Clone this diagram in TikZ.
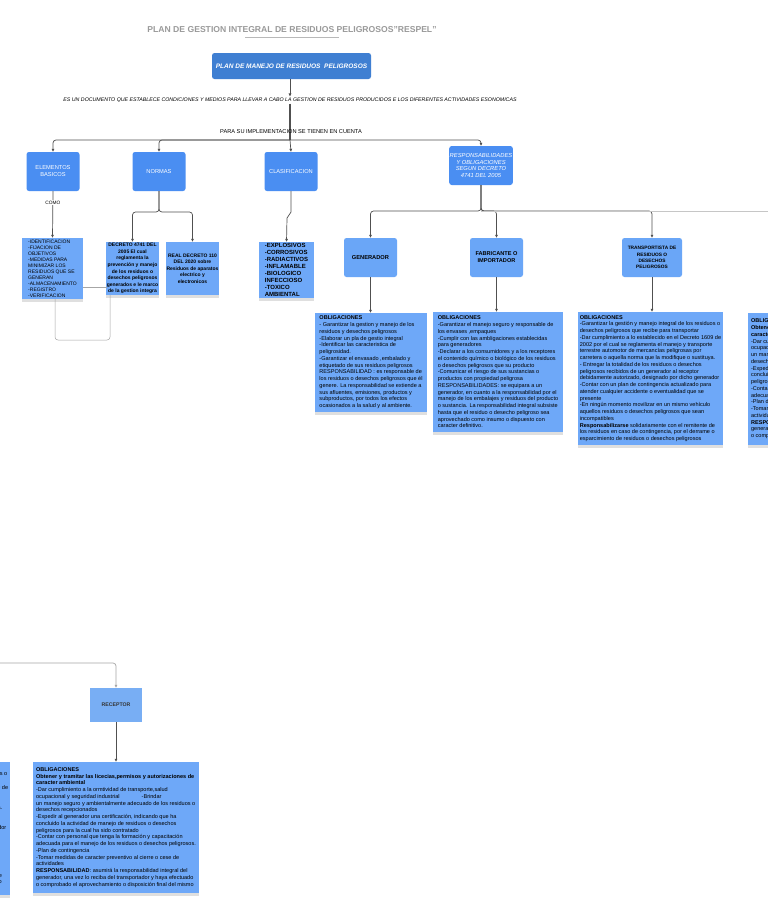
\documentclass[tikz,border=0pt]{standalone}
\usepackage{fontspec}
\setmainfont{Liberation Sans}
\usetikzlibrary{shadows,arrows.meta}
\definecolor{mainblue}{HTML}{3F7FD2}
\definecolor{catblue}{HTML}{4A8EF2}
\definecolor{actblue}{HTML}{6AA6F7}
\definecolor{contblue}{HTML}{6EA8F8}
\definecolor{recblue}{HTML}{78AEF4}
\definecolor{lineg}{HTML}{505050}
\definecolor{titleg}{HTML}{9A9A9A}
\tikzset{
  catbox/.style={fill=catblue, rounded corners=2.5pt, text=white, align=center, inner sep=0.5pt},
  actbox/.style={fill=actblue, rounded corners=2.5pt, align=center, inner sep=0.5pt, text=black},
  contbox/.style={fill=contblue, align=left, inner sep=1pt, text=black,
     drop shadow={opacity=0.25, shadow xshift=0pt, shadow yshift=-2.5pt}},
  conn/.style={draw=lineg, line width=0.7pt},
  arr/.style={conn, -{Triangle[length=3pt,width=2.6pt]}},
  rc/.style={rounded corners=3pt},
  obtext/.style={font=\fontsize{5.55}{6.75}\selectfont}
}
\newcommand{\transtext}{\textbf{OBLIGACIONES}\\
-Garantizar la gestión y manejo integral de los residuos o\\
desechos peligrosos que recibe para transportar\\
-Dar cumplimiento a lo establecido en el Decreto 1609 de\\
2002 por el cual se reglamenta el manejo y transporte\\
terrestre automotor de mercancías peligrosas por\\
carretera o aquella norma que la modifique o sustituya.\\
- Entregar la totalidad de los residuos o desechos\\
peligrosos recibidos de un generador al receptor\\
debidamente autorizado, designado por dicho generador\\
-Contar con un plan de contingencia actualizado para\\
atender cualquier accidente o eventualidad que se\\
presente\\
-En ningún momento movilizar en un mismo vehículo\\
aquellos residuos o desechos peligrosos que sean\\
incompatibles\\
\textbf{Responsabilizarse} solidariamente con el remitente de\\
los residuos en caso de contingencia, por el derrame o\\
esparcimiento de residuos o desechos peligrosos}
\newcommand{\rectext}{\textbf{OBLIGACIONES}\\
\textbf{Obtener y tramitar las licecias,permisos y autorizaciones de}\\
\textbf{caracter ambiental}\\
-Dar cumplimiento a la ormtividad de transporte,salud\\
ocupacional y seguridad industrial\hspace{22pt}-Brindar\\
un manejo seguro y ambientalmente adecuado de los residuos o\\
desechos recepcionados\\
-Expedir al generador una certificación, indicando que ha\\
concluido la actividad de manejo de residuos o desechos\\
peligrosos para la cual ha sido contratado\\
-Contar con personal que tenga la formación y capacitación\\
adecuada para el manejo de los residuos o desechos peligrosos.\\
-Plan de contingencia\\
-Tomar medidas de caracter preventivo al cierre o cese de\\
actividades\\
\textbf{RESPONSABILIDAD}: asumirá la responsabilidad integral del\\
generador, una vez lo reciba del transportador y haya efectuado\\
o comprobado el aprovechamiento o disposición final del mismo}
\begin{document}
\begin{tikzpicture}[x=1pt,y=-1pt]
\useasboundingbox (0,0) rectangle (768,900);
\fill[white] (0,0) rectangle (768,900);
\clip (0,0) rectangle (768,900);

% title
\node[text=titleg, font=\fontsize{8.6}{10}\selectfont\bfseries] (title) at (292,30) {PLAN DE GESTION INTEGRAL DE RESIDUOS PELIGROSOS"RESPEL"};
\draw[titleg!70, line width=0.6pt] (245,37) -- (339,37);

% main
\node[fill=mainblue, rounded corners=2.5pt, minimum width=159pt, minimum height=26pt, text=white,
      font=\fontsize{6.5}{7.5}\selectfont\bfseries\itshape] (main) at (291.5,66) {PLAN DE MANEJO DE RESIDUOS\ \ PELIGROSOS};
\node[font=\fontsize{5.25}{6}\selectfont\itshape, inner sep=1pt] (desc) at (290,100) {ES UN DOCUMENTO QUE ESTABLECE CONDICIONES Y MEDIOS PARA LLEVAR A CABO LA GESTION DE RESIDUOS PRODUCIDOS E LOS DIFERENTES ACTIVIDADES ESONOMICAS};
\coordinate (br) at (290,140);
\draw[arr] (main.south -| desc.north) -- (desc.north);
\draw[conn, line width=1.1pt] (desc.south) -- (br);
\node[font=\fontsize{5.65}{6.5}\selectfont, inner sep=0.5pt] (impl) at (291,132) {PARA SU IMPLEMENTACION SE TIENEN EN CUENTA};

% categories
\node[catbox, minimum width=53pt, minimum height=39pt, font=\fontsize{5.7}{7}\selectfont] (elem) at (53,171.5) {ELEMENTOS\\BASICOS};
\node[catbox, minimum width=53pt, minimum height=39pt, font=\fontsize{5.7}{7}\selectfont] (norm) at (159,171.5) {NORMAS};
\node[catbox, minimum width=53pt, minimum height=39pt, font=\fontsize{5.7}{7}\selectfont] (clas) at (291,171.5) {CLASIFICACION};
\node[catbox, minimum width=62pt, minimum height=39pt, font=\fontsize{5.8}{6.8}\selectfont\itshape] (resp) at (481,165.5) {RESPONSABILIDADES\\Y OBLIGACIONES\\SEGUN DECRETO\\4741 DEL 2005};

\draw[arr, rc] (br) -| (elem.north);
\draw[arr, rc] (br) -| (norm.north);
\draw[arr] (br) -- (clas.north);
\draw[arr, rc] (br) -| (resp.north);

% elementos list
\node[contbox, minimum width=61pt, minimum height=61pt, font=\fontsize{5}{6}\selectfont] (elist) at (52.5,268.5) {-IDENTIFICACION\\-FIJACION DE\\OBJETIVOS\\-MEDIDAS PARA\\MINIMIZAR LOS\\RESIDUOS QUE SE\\GENERAN\\-ALMACENAMIENTO\\-REGISTRO\\-VERIFICACION};
\draw[arr] (elem.south) -- node[pos=0.25, fill=white, inner sep=0.8pt, font=\fontsize{4.8}{5}\selectfont] (como) {COMO} (elist.north);

% normas
\node[contbox, align=center, minimum width=51pt, minimum height=53pt, font=\fontsize{5}{6.6}\selectfont\bfseries] (dec) at (132.5,268.5) {DECRETO 4741 DEL\\2005 El cual\\reglamenta la\\prevención y manejo\\de los residuos o\\desechos peligrosos\\generados e le marco\\de la gestion integra};
\node[contbox, align=center, minimum width=53pt, minimum height=53pt, font=\fontsize{5}{6.6}\selectfont\bfseries] (real) at (192.5,268.5) {REAL DECRETO 110\\DEL 2020 sobre\\Residuos de aparatos\\electrico y\\electronicos};
\coordinate (ns) at (159,212);
\draw[arr, rc] (norm.south) -- (ns) -| (dec.north);
\draw[arr, rc] (norm.south) -- (ns) -| (real.north);

% odd connectors between elementos list and decreto
\coordinate (h1) at (83,287);
\coordinate (h2) at (107,287);
\coordinate (l1) at (55,299);
\coordinate (l2) at (55,340);
\coordinate (l3) at (110,340);
\coordinate (l4) at (110,295);
\draw[conn, draw=gray!70, line width=0.5pt] (h1) -- (h2);
\draw[conn, draw=gray!70, line width=0.5pt, rc] (l1) -- (l2) -- (l3) -- (l4);

% clasificacion
\node[contbox, minimum width=55pt, minimum height=56pt, font=\fontsize{6}{6.9}\selectfont\bfseries] (clist) at (286.5,270) {-EXPLOSIVOS\\-CORROSIVOS\\-RADIACTIVOS\\-INFLAMABLE\\-BIOLOGICO\\INFECCIOSO\\-TOXICO\\AMBIENTAL};
\coordinate (c1) at (291,212);
\coordinate (c2) at (287,218);
\draw[arr] (clas.south) -- (c1) -- (c2) -- (clist.north);

% actors
\node[actbox, minimum width=53pt, minimum height=39pt, font=\fontsize{5.7}{7}\selectfont\bfseries] (gen) at (370.5,257.5) {GENERADOR};
\node[actbox, minimum width=53pt, minimum height=39pt, font=\fontsize{5.6}{7}\selectfont\bfseries] (fab) at (496.5,257.5) {FABRICANTE O\\IMPORTADOR};
\node[actbox, minimum width=60pt, minimum height=39pt, font=\fontsize{4.8}{6.3}\selectfont\bfseries] (trans) at (652,257.5) {TRANSPORTISTA DE\\RESIDUOS O\\DESECHOS\\PELIGROSOS};
\coordinate (rs) at (481,211);
\coordinate (rsend) at (768,211);
\draw[arr, rc] (resp.south) -- (rs) -| (gen.north);
\draw[arr, rc] (resp.south) -- (rs) -| (fab.north);
\draw[arr, rc] (resp.south) -- (rs) -| (trans.north);
\draw[conn, draw=gray!45, rc] (rs) -- (rsend);

% obligations
\node[contbox, obtext, minimum width=112pt, minimum height=99pt] (genob) at (371,362.5) {\textbf{OBLIGACIONES}\\
- Garantizar la gestion y manejo de los\\
residuos y desechos peligrosos\\
-Elaborar un pla de gestio integral\\
-Identificar las caracteristica de\\
peligrosidad.\\
-Garantizar el envasado ,embalado y\\
etiquetado de sus residuos peligrosos\\
RESPONSABILIDAD : es responsable de\\
los residuos o desechos peligrosos que él\\
genere. La responsabilidad se extiende a\\
sus afluentes, emisiones, productos y\\
subproductos, por todos los efectos\\
ocasionados a la salud y al ambiente.};
\node[contbox, obtext, minimum width=130pt, minimum height=120pt] (fabob) at (498,372) {\textbf{OBLIGACIONES}\\
-Garantizar el manejo seguro y responsable de\\
los envases ,empaques\\
-Cumplir con las ambligaciones establecidas\\
para generadores\\
-Declarar a los consumidores y a los receptores\\
el contenido químico o biológico de los residuos\\
o desechos peligrosos que su producto\\
-Comunicar el riesgo de sus sustancias o\\
productos con propiedad peligrosa\\
RESPONSABILIDADES: se equipara a un\\
generador, en cuanto a la responsabilidad por el\\
manejo de los embalajes y residuos del producto\\
o sustancia. La responsabilidad integral subsiste\\
hasta que el residuo o desecho peligroso sea\\
aprovechado como insumo o dispuesto con\\
caracter definitivo.};
\node[contbox, obtext, minimum width=145pt, minimum height=133pt] (transob) at (650.5,378.5) {\transtext};
\node[contbox, obtext, minimum width=166pt, minimum height=132pt] (farob) at (831,379) {\rectext};
\node[contbox, obtext, minimum width=145pt, minimum height=133pt] (leftob) at (-62.5,828.5) {\transtext};

\draw[arr] (gen.south) -- (gen.south |- genob.north);
\draw[arr] (fab.south) -- (fab.south |- fabob.north);
\draw[arr] (trans.south) -- (trans.south |- transob.north);

% receptor
\node[fill=recblue, minimum width=52pt, minimum height=34pt, font=\fontsize{5.2}{6}\selectfont\bfseries, text=black!80, inner sep=0.5pt] (rec) at (116,705) {RECEPTOR};
\node[contbox, obtext, minimum width=166pt, minimum height=131pt] (recob) at (116,827.5) {\rectext};
\coordinate (rl) at (0,663);
\draw[arr, draw=gray!70, rc] (rl) -| (rec.north);
\draw[arr, line width=0.9pt] (rec.south) -- (recob.north);
\end{tikzpicture}
\end{document}
